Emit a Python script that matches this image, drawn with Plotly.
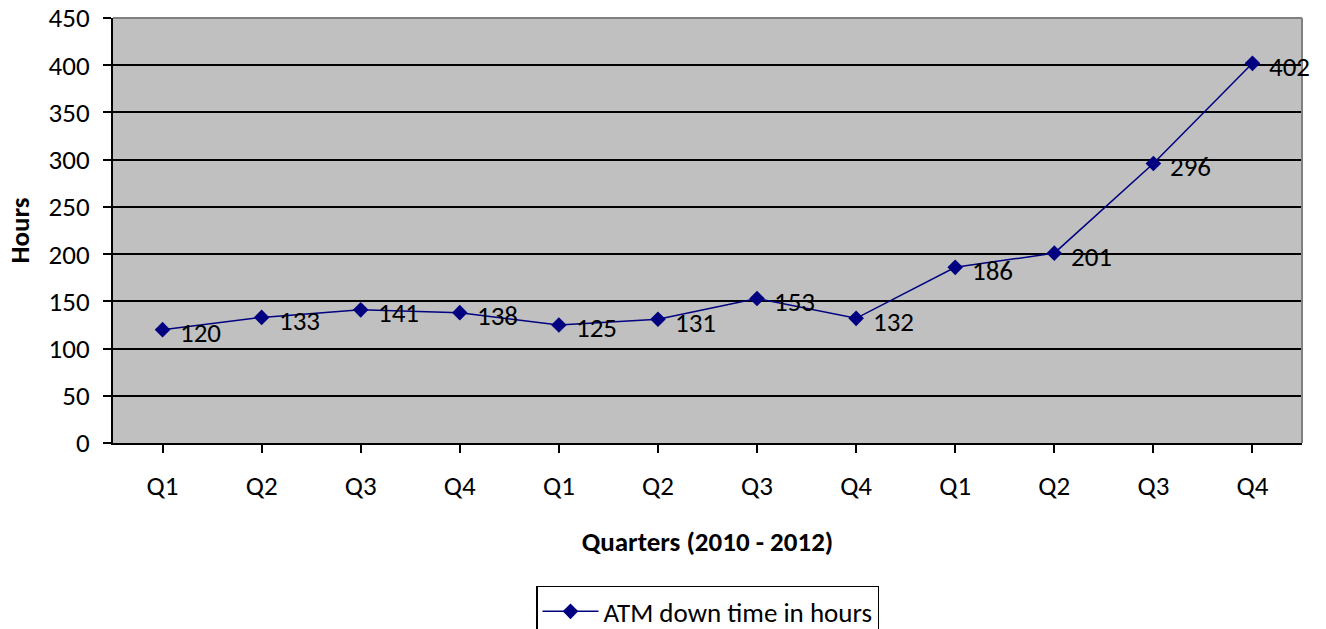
import plotly.graph_objects as go

categories = ["Q1", "Q2", "Q3", "Q4", "Q1", "Q2", "Q3", "Q4", "Q1", "Q2", "Q3", "Q4"]
values = [120, 133, 141, 138, 125, 131, 153, 132, 186, 201, 296, 402]
series_name = "ATM down time in hours"
y_ticks = [0, 50, 100, 150, 200, 250, 300, 350, 400, 450]

FONT = "Carlito, Lato, 'Open Sans', sans-serif"
FS = 27
xpos = list(range(len(categories)))

fig = go.Figure()
fig.add_trace(go.Scatter(
    x=xpos, y=values, mode="lines+markers", name=series_name,
    line=dict(color="#000080", width=1.5),
    marker=dict(symbol="diamond", size=12, color="#000080"),
))

for xi, v in zip(xpos, values):
    fig.add_annotation(x=xi, y=v, text=str(v), showarrow=False,
                       xanchor="left", yanchor="middle", xshift=15, yshift=-3,
                       font=dict(family=FONT, size=FS, color="black"))

# gray top/right border of plot area
fig.add_shape(type="line", xref="paper", yref="paper", x0=0, x1=1, y0=1, y1=1,
              line=dict(color="#808080", width=2), layer="above")
fig.add_shape(type="line", xref="paper", yref="paper", x0=1, x1=1, y0=0, y1=1,
              line=dict(color="#808080", width=2), layer="above")

fig.update_layout(
    width=1326, height=629,
    margin=dict(l=113, r=24, t=18, b=186, autoexpand=False),
    paper_bgcolor="white", plot_bgcolor="#C0C0C0",
    font=dict(family=FONT, size=FS, color="black"),
    showlegend=True,
    legend=dict(x=0.5, y=-0.336, xanchor="center", yanchor="top",
                bordercolor="black", borderwidth=1.5, bgcolor="white",
                font=dict(family=FONT, size=FS), itemwidth=56),
)
fig.update_xaxes(
    tickmode="array", tickvals=xpos, ticktext=categories,
    range=[-0.5, len(categories) - 0.5],
    showgrid=False, zeroline=False, automargin=False,
    showline=True, linecolor="black", linewidth=2,
    ticks="outside", ticklen=8, tickcolor="black", tickwidth=1.5,
    tickson="boundaries", ticklabelstandoff=10,
    title=dict(text="<b>Quarters (2010 - 2012)</b>", standoff=31,
               font=dict(family=FONT, size=FS)),
    tickfont=dict(family=FONT, size=FS),
)
fig.update_yaxes(
    range=[0, 450], tickvals=y_ticks,
    showgrid=True, gridcolor="black", gridwidth=1.5,
    zeroline=False, automargin=False,
    showline=True, linecolor="black", linewidth=2,
    ticks="outside", ticklen=8, tickcolor="black", tickwidth=1.5,
    ticklabelstandoff=8,
    title=dict(text="<b>Hours</b>", standoff=11,
               font=dict(family=FONT, size=FS)),
    tickfont=dict(family=FONT, size=FS),
)

fig.write_html("out.html", config={"displayModeBar": False},
               post_script="document.body.style.margin='0';")
